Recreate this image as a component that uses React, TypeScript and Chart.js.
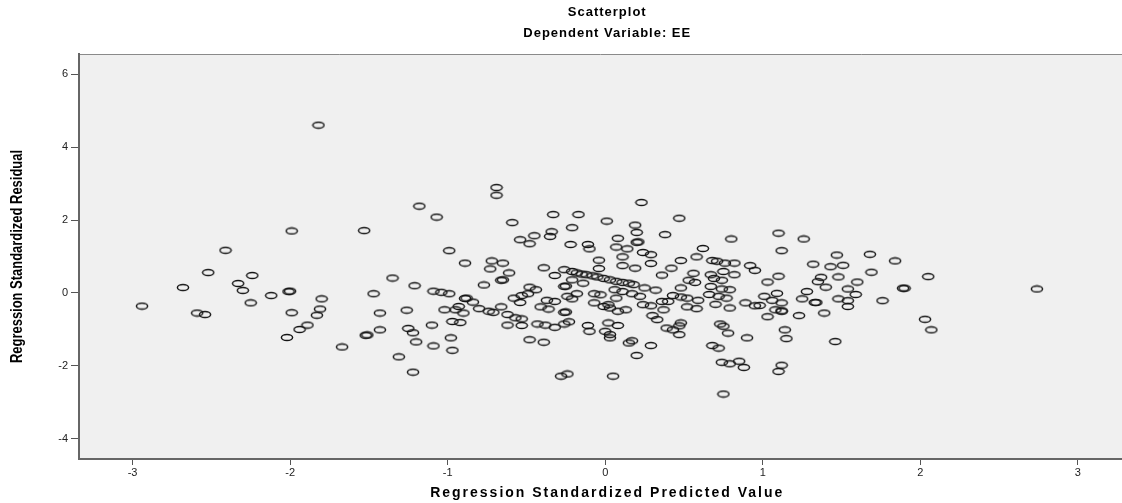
import React, { useEffect, useRef } from "react";
import { Chart, registerables } from "chart.js";

Chart.register(...registerables);

// Regression standardized predicted values (x) and residuals (y)
const predicted: number[] = [
  -1.82, -1.18, -1.99, -1.53, -2.41, -2.52, -2.24, -1.35, -2.68, -2.33,
  -2.30, -1.21, -1.09, -2.01, -2.00, -2.12, -1.47, -2.94, -2.25, -1.80,
  -2.59, -2.54, -1.99, -1.81, -1.83, -1.43, -1.26, -1.89, -1.94, -2.02,
  -1.52, -1.51, -1.43, -1.25, -1.22, -1.20, -1.67, -1.31, -1.22, -1.07,
  -0.99, -1.04, -0.99, -1.10, -1.09, -0.98, -0.97, -0.89, -1.02, -0.95,
  -0.89, -0.93, -0.90,
  -0.69, -0.69, 0.23, -0.33, -0.17, -0.59, 0.01, 0.47, -0.21, 0.19,
  -0.34, -0.35, -0.45, -0.54, -0.48, 0.20, 0.38, 0.80, -0.22, -0.11,
  -0.10, 0.08, 0.20, 0.21, 0.07, 0.14, 0.24, 0.29, 0.62, -0.72,
  -0.65, -0.73, -0.61, -0.66, -0.65, -0.77, -0.39, -0.32, -0.04, -0.04,
  0.11, 0.11, 0.19, 0.29, 0.42, 0.48, 0.58, 0.36, 0.56, 0.68,
  0.71, 0.76, 0.82, 0.92, 0.95, 0.75, 0.82, 0.67, 0.69, 0.74,
  0.53, 0.57, 0.67, 0.74, 0.79, 0.48, 0.25, 0.32,
  -0.26, -0.21, -0.18, -0.15, -0.12, -0.08, -0.05, -0.01, 0.03, 0.07, 0.11, 0.15, 0.18,
  -0.21, -0.14, -0.26, -0.25, -0.48, -0.44, 0.06, 0.11,
  -0.88, -0.84, -0.80, -0.74, -0.71, -0.66, -0.62, -0.57, -0.53, -0.62,
  -0.53, -0.97, -0.92, -0.58, -0.53, -0.49, -0.54, -0.41, -0.36, -0.37,
  -0.32, -0.26, -0.25, -0.43, -0.38, -0.32, -0.26, -0.23, -0.48, -0.39,
  -0.24, -0.21, -0.18, -0.07, -0.03, -0.07, -0.01, 0.03, 0.02, 0.08,
  0.13, 0.07, -0.11, -0.10, 0.02, 0.08, 0.00, 0.03, 0.03, 0.15,
  0.17, 0.29, 0.20, -0.28, -0.24, 0.05, 0.17, 0.22, 0.24, 0.29,
  0.30, 0.33, 0.36, 0.40, 0.37, 0.43, 0.48, 0.52, 0.52, 0.58,
  0.59, 0.66, 0.72, 0.77, 0.70, 0.79, 0.89, 0.95, 0.39, 0.43,
  0.47, 0.48, 0.47, 0.73, 0.75, 0.78, 0.90, 0.68, 0.72, 0.74,
  0.79, 0.85, 0.88, 0.75,
  1.10, 1.26, 1.12, 1.47, 1.68, 1.84, 1.32, 1.43, 1.51, 1.69,
  1.10, 1.03, 1.37, 1.35, 1.48, 1.60, 2.05, 1.40, 1.89, 1.90,
  2.74, 1.09, 1.28, 1.01, 1.54, 1.59, 1.25, 1.06, 1.12, 1.33,
  1.34, 1.48, 1.54, 1.76, 1.54, 0.98, 1.08, 1.12, 1.12, 1.03,
  1.23, 1.39, 2.03, 2.07, 1.14, 1.15, 1.46, 1.12, 1.10,
];

const residual: number[] = [
  4.60, 2.38, 1.70, 1.71, 1.17, 0.56, 0.48, 0.41, 0.15, 0.26,
  0.07, 0.20, 0.05, 0.04, 0.05, -0.07, -0.02, -0.36, -0.27, -0.16,
  -0.55, -0.59, -0.54, -0.44, -0.61, -0.55, -0.47, -0.88, -1.00, -1.22,
  -1.16, -1.15, -1.01, -0.97, -1.09, -1.34, -1.48, -1.75, -2.17, 2.08,
  1.16, 0.02, -0.02, -0.88, -1.45, -1.23, -1.57, 0.82, -0.46, -0.46,
  -0.15, -0.37, -0.55,
  2.89, 2.68, 2.48, 2.15, 2.15, 1.93, 1.97, 2.05, 1.79, 1.86,
  1.68, 1.55, 1.57, 1.46, 1.35, 1.66, 1.60, 1.48, 1.33, 1.33,
  1.21, 1.50, 1.39, 1.40, 1.26, 1.21, 1.11, 1.05, 1.22, 0.88,
  0.82, 0.66, 0.55, 0.35, 0.36, 0.22, 0.69, 0.48, 0.90, 0.67,
  0.99, 0.75, 0.68, 0.81, 0.68, 0.89, 0.99, 0.49, 0.54, 0.89,
  0.87, 0.82, 0.82, 0.75, 0.62, 0.59, 0.50, 0.50, 0.40, 0.35,
  0.35, 0.29, 0.18, 0.11, 0.09, 0.14, 0.14, 0.08,
  0.64, 0.59, 0.55, 0.52, 0.50, 0.47, 0.44, 0.40, 0.36, 0.32, 0.29, 0.27, 0.23,
  0.36, 0.27, 0.18, 0.19, 0.16, 0.09, 0.09, 0.04,
  -0.14, -0.25, -0.43, -0.50, -0.53, -0.38, -0.59, -0.68, -0.71, -0.88,
  -0.89, -0.78, -0.81, -0.14, -0.07, -0.02, -0.26, -0.38, -0.44, -0.20,
  -0.23, -0.53, -0.52, -0.85, -0.88, -0.94, -0.85, -0.79, -1.28, -1.35,
  -0.09, -0.16, -0.02, -0.02, -0.05, -0.27, -0.37, -0.41, -0.32, -0.50,
  -0.46, -0.14, -0.89, -1.05, -0.82, -0.89, -1.05, -1.14, -1.23, -1.37,
  -1.31, -1.44, -1.71, -2.28, -2.22, -2.28, -0.02, -0.09, -0.32, -0.35,
  -0.62, -0.73, -0.23, -0.23, -0.46, -0.07, -0.11, -0.14, -0.38, -0.43,
  -0.20, -0.04, -0.09, -0.14, -0.31, -0.41, -0.27, -0.35, -0.96, -1.01,
  -0.90, -0.82, -1.14, -0.85, -0.91, -1.10, -1.23, -1.44, -1.51, -1.90,
  -1.94, -1.87, -2.04, -2.77,
  1.64, 1.48, 1.16, 1.04, 1.06, 0.88, 0.79, 0.72, 0.76, 0.57,
  0.46, 0.30, 0.43, 0.31, 0.44, 0.30, 0.45, 0.16, 0.13, 0.13,
  0.11, -0.01, 0.04, -0.09, 0.11, -0.04, -0.16, -0.20, -0.27, -0.26,
  -0.26, -0.16, -0.21, -0.21, -0.37, -0.34, -0.46, -0.50, -0.49, -0.65,
  -0.62, -0.55, -0.72, -1.01, -1.01, -1.25, -1.33, -1.98, -2.15,
];

const xTickValues = [-3, -2, -1, 0, 1, 2, 3];
const yTickValues = [-4, -2, 0, 2, 4, 6];

const chartTitle = "Scatterplot";
const chartSubtitle = "Dependent Variable: EE";
const xTitle = "Regression Standardized Predicted Value";
const yTitle = "Regression Standardized Residual";

const SANS = "'Liberation Sans', Arial, sans-serif";

function makeMarker(): HTMLCanvasElement {
  const c = document.createElement("canvas");
  c.width = 14;
  c.height = 9;
  const ctx = c.getContext("2d")!;
  ctx.strokeStyle = "#141414";
  ctx.lineWidth = 1.45;
  ctx.beginPath();
  ctx.ellipse(7, 4.5, 5.6, 3, 0, 0, Math.PI * 2);
  ctx.stroke();
  return c;
}

const plotBackground = {
  id: "plotBackground",
  beforeDraw(chart: any) {
    const { ctx, chartArea: a } = chart;
    ctx.save();
    ctx.fillStyle = "#F0F0F0";
    ctx.fillRect(a.left, a.top, a.right - a.left, a.bottom - a.top);
    ctx.strokeStyle = "#8a8a8a";
    ctx.lineWidth = 1;
    ctx.beginPath();
    ctx.moveTo(a.left, a.top + 0.5);
    ctx.lineTo(a.right, a.top + 0.5);
    ctx.stroke();
    ctx.restore();
  },
};

const titlesPlugin = {
  id: "titlesPlugin",
  afterDraw(chart: any) {
    const { ctx, chartArea: a } = chart;
    const cx = chart.scales.x.getPixelForValue(0) + 2;
    ctx.save();
    ctx.fillStyle = "#000";
    ctx.textAlign = "center";
    ctx.textBaseline = "middle";
    (ctx as any).letterSpacing = "1px";
    ctx.font = `bold 13px ${SANS}`;
    ctx.fillText(chartTitle, cx, 12);
    ctx.fillText(chartSubtitle, cx, 33);
    (ctx as any).letterSpacing = "2px";
    ctx.font = `bold 14px ${SANS}`;
    ctx.fillText(xTitle, cx, 493);
    (ctx as any).letterSpacing = "0px";
    ctx.font = `bold 16px ${SANS}`;
    const w = ctx.measureText(yTitle).width;
    const s = 213 / w;
    ctx.translate(18, (a.top + a.bottom) / 2);
    ctx.rotate(-Math.PI / 2);
    ctx.scale(s, 1);
    ctx.fillText(yTitle, 0, 0);
    ctx.restore();
  },
};

export default function App() {
  const canvasRef = useRef<HTMLCanvasElement | null>(null);

  useEffect(() => {
    document.body.style.margin = "0";
    const canvas = canvasRef.current;
    if (!canvas) return;
    const marker = makeMarker();
    const points = predicted.map((x, i) => ({ x, y: residual[i] }));

    const chart = new Chart(canvas, {
      type: "scatter",
      data: {
        datasets: [
          {
            data: points,
            pointStyle: marker as any,
            pointRadius: 5,
            pointHoverRadius: 5,
          },
        ],
      },
      plugins: [plotBackground, titlesPlugin],
      options: {
        responsive: false,
        animation: false,
        devicePixelRatio: 1,
        layout: { autoPadding: false, padding: { left: 0, right: 0, top: 54, bottom: 0 } },
        plugins: {
          legend: { display: false },
          tooltip: { enabled: false },
          title: { display: false },
          subtitle: { display: false },
        },
        scales: {
          x: {
            type: "linear",
            min: -3.34,
            max: 3.28,
            afterBuildTicks: (s: any) => {
              s.ticks = xTickValues.map((v) => ({ value: v }));
            },
            afterFit: (s: any) => {
              s.height = 44;
              s.paddingLeft = 0;
              s.paddingRight = 0;
            },
            grid: {
              drawOnChartArea: false,
              drawTicks: true,
              tickLength: 6,
              color: "#555",
            },
            border: { display: true, color: "#666", width: 2 },
            ticks: {
              font: { family: SANS, size: 11 },
              color: "#222",
              padding: 1,
              maxRotation: 0,
            },
            title: { display: false },
          },
          y: {
            type: "linear",
            min: -4.55,
            max: 6.55,
            afterBuildTicks: (s: any) => {
              s.ticks = yTickValues.map((v) => ({ value: v }));
            },
            afterFit: (s: any) => {
              s.width = 79;
              s.paddingTop = 0;
              s.paddingBottom = 0;
            },
            grid: {
              drawOnChartArea: false,
              drawTicks: true,
              tickLength: 8,
              color: "#555",
            },
            border: { display: true, color: "#666", width: 2 },
            ticks: {
              font: { family: SANS, size: 11 },
              color: "#222",
              padding: 3,
            },
            title: { display: false },
          },
        },
      },
    });

    return () => chart.destroy();
  }, []);

  return (
    <div style={{ width: 1122, height: 503 }}>
      <canvas ref={canvasRef} width={1122} height={503} style={{ display: "block" }} />
    </div>
  );
}
